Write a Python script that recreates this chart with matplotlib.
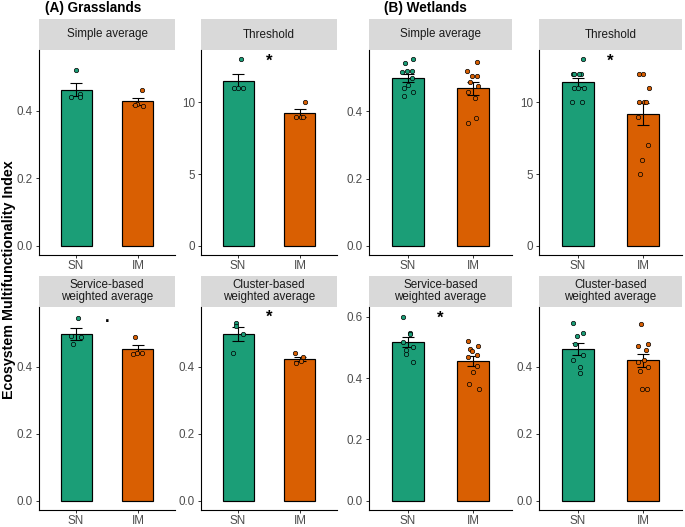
import numpy as np
import matplotlib
matplotlib.use("Agg")
import matplotlib.pyplot as plt
from matplotlib.ticker import MultipleLocator, FormatStrFormatter

plt.rcParams['font.family'] = ['Liberation Sans', 'DejaVu Sans']

# ---------------- data ----------------
groups = ["SN", "IM"]
group_colors = ["#1b9e77", "#d95f02"]

panel_titles = ["Simple average", "Threshold", "Simple average", "Threshold",
                "Service-based\nweighted average", "Cluster-based\nweighted average",
                "Service-based\nweighted average", "Cluster-based\nweighted average"]

# Grasslands
g_simple_sn = [0.52, 0.45, 0.44, 0.44]
g_simple_im = [0.46, 0.42, 0.418, 0.413]
g_thresh_sn = [13, 11, 11, 11]
g_thresh_im = [10, 9, 9, 9]
g_service_sn = [0.546, 0.491, 0.488, 0.467]
g_service_im = [0.488, 0.442, 0.44, 0.438]
g_cluster_sn = [0.530, 0.522, 0.499, 0.441]
g_cluster_im = [0.44, 0.428, 0.418, 0.412]

# Wetlands
w_simple_sn = [0.555, 0.543, 0.521, 0.52, 0.516, 0.50, 0.478, 0.469, 0.458, 0.445]
w_simple_im = [0.548, 0.521, 0.506, 0.506, 0.487, 0.476, 0.457, 0.439, 0.38, 0.366]
w_thresh_sn = [13, 12, 12, 12, 12, 11, 11, 11, 10, 10]
w_thresh_im = [12, 12, 11, 10, 10, 10, 9, 7, 6, 5]
w_service_sn = [0.60, 0.548, 0.545, 0.518, 0.502, 0.491, 0.478, 0.452]
w_service_im = [0.522, 0.504, 0.494, 0.49, 0.477, 0.47, 0.441, 0.421, 0.382, 0.365]
w_cluster_sn = [0.53, 0.50, 0.491, 0.467, 0.434, 0.42, 0.40, 0.382]
w_cluster_im = [0.527, 0.467, 0.463, 0.451, 0.42, 0.414, 0.40, 0.387, 0.335, 0.335]

panel_data = [
    (g_simple_sn, g_simple_im), (g_thresh_sn, g_thresh_im),
    (w_simple_sn, w_simple_im), (w_thresh_sn, w_thresh_im),
    (g_service_sn, g_service_im), (g_cluster_sn, g_cluster_im),
    (w_service_sn, w_service_im), (w_cluster_sn, w_cluster_im),
]

# significance labels (text, y position); "" = none
sig_labels = ["", "*", "", "*", ".", "*", "*", ""]
sig_y = [0.552, 13.0, 0.555, 13.0, 0.552, 0.552, 0.601, 0.552]
# upper data extent used for the y scale
y_top = [0.552, 13.0, 0.555, 13.0, 0.552, 0.552, 0.603, 0.552]
y_step = [0.2, 5, 0.2, 5, 0.2, 0.2, 0.2, 0.2]

# ---------------- layout (pixels) ----------------
W, H = 685, 527
fig = plt.figure(figsize=(W / 100, H / 100), dpi=100)

col_x = [(39, 175), (201, 337), (369, 512), (539, 682)]
row_y = [((19, 50), (50, 255)), ((275.7, 306.7), (306.7, 510))]


def rect(x0, x1, y0, y1):
    return [x0 / W, 1 - y1 / H, (x1 - x0) / W, (y1 - y0) / H]


tick_col = "#4d4d4d"

for i, (sn, im) in enumerate(panel_data):
    r, c = divmod(i, 4)
    x0, x1 = col_x[c]
    (sy0, sy1), (ay0, ay1) = row_y[r]

    # strip
    sax = fig.add_axes(rect(x0, x1, sy0, sy1))
    sax.set_facecolor("#d9d9d9")
    for s in sax.spines.values():
        s.set_visible(False)
    sax.set_xticks([]); sax.set_yticks([])
    sax.text(0.5, 0.5, panel_titles[i], ha="center", va="center",
             fontsize=8.4, color="#1a1a1a", linespacing=0.95,
             transform=sax.transAxes)

    ax = fig.add_axes(rect(x0, x1, ay0, ay1))
    vals = [np.asarray(sn, float), np.asarray(im, float)]
    means = [v.mean() for v in vals]
    ses = [v.std(ddof=1) / np.sqrt(len(v)) for v in vals]
    xs = np.arange(1, 3)
    ax.bar(xs, means, width=0.5, color=group_colors, edgecolor="black",
           linewidth=0.85, zorder=2)
    ax.errorbar(xs, means, yerr=ses, fmt="none", ecolor="black",
                elinewidth=0.8, capsize=4.6, capthick=0.8, zorder=3)
    for k, v in enumerate(vals):
        n = len(v)
        jit = 0.085 * np.sin(np.arange(n) * 2.39 + i * 0.7 + k)
        ax.scatter(xs[k] + jit, v, s=10, facecolor=group_colors[k],
                   edgecolor="black", linewidth=0.5, zorder=4)

    if sig_labels[i] == "*":
        ax.text(1.5, sig_y[i], "*", ha="center", va="center_baseline",
                fontsize=12, fontweight="bold", color="black", zorder=5)
    elif sig_labels[i] == ".":
        ax.text(1.5, sig_y[i], ".", ha="center", va="center_baseline",
                fontsize=12, fontweight="bold", color="black", zorder=5)

    M = y_top[i]
    ax.set_ylim(-0.05 * M, 1.05 * M)
    ax.set_xlim(0.4, 2.6)
    ax.set_xticks(xs)
    ax.set_xticklabels(groups)
    ax.yaxis.set_major_locator(MultipleLocator(y_step[i]))
    if y_step[i] < 1:
        ax.yaxis.set_major_formatter(FormatStrFormatter("%.1f"))
    else:
        ax.yaxis.set_major_formatter(FormatStrFormatter("%d"))
    for s in ["top", "right"]:
        ax.spines[s].set_visible(False)
    for s in ["left", "bottom"]:
        ax.spines[s].set_linewidth(0.8)
        ax.spines[s].set_color("black")
    ax.tick_params(axis="both", length=2.5, width=0.7, color="#333333",
                   labelsize=8.4, labelcolor=tick_col, pad=2)
    ax.tick_params(axis="x", pad=1.2)
    ax.set_facecolor("white")

fig.text(45 / W, 1 - 8 / H, "(A) Grasslands", ha="left", va="center",
         fontsize=9.8, fontweight="bold")
fig.text(384 / W, 1 - 8 / H, "(B) Wetlands", ha="left", va="center",
         fontsize=9.8, fontweight="bold")
fig.text(9 / W, 1 - 280 / H, "Ecosystem Multifunctionality Index",
         rotation=90, ha="center", va="center", fontsize=10.3, fontweight="bold")

fig.savefig("out.png", dpi=100, facecolor="white")
